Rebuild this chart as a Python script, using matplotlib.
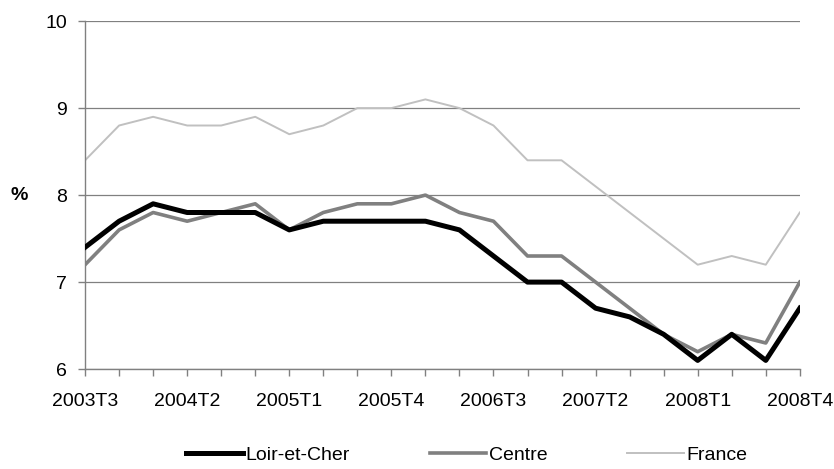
import numpy as np
import matplotlib.pyplot as plt

plt.rcParams['font.family'] = ['Liberation Sans', 'DejaVu Sans']

trimestres = ['2003T3', '2003T4', '2004T1', '2004T2', '2004T3', '2004T4',
              '2005T1', '2005T2', '2005T3', '2005T4', '2006T1', '2006T2',
              '2006T3', '2006T4', '2007T1', '2007T2', '2007T3', '2007T4',
              '2008T1', '2008T2', '2008T3', '2008T4']
loir_et_cher = [7.4, 7.7, 7.9, 7.8, 7.8, 7.8, 7.6, 7.7, 7.7, 7.7, 7.7, 7.6,
                7.3, 7.0, 7.0, 6.7, 6.6, 6.4, 6.1, 6.4, 6.1, 6.7]
centre = [7.2, 7.6, 7.8, 7.7, 7.8, 7.9, 7.6, 7.8, 7.9, 7.9, 8.0, 7.8,
          7.7, 7.3, 7.3, 7.0, 6.7, 6.4, 6.2, 6.4, 6.3, 7.0]
france = [8.4, 8.8, 8.9, 8.8, 8.8, 8.9, 8.7, 8.8, 9.0, 9.0, 9.1, 9.0,
          8.8, 8.4, 8.4, 8.1, 7.8, 7.5, 7.2, 7.3, 7.2, 7.8]

x = np.arange(len(trimestres))

fig = plt.figure(figsize=(8.34, 4.69), dpi=100)
ax = fig.add_axes([0.102, 0.213, 0.857, 0.742])

ax.plot(x, loir_et_cher, color='black', lw=3.6, label='Loir-et-Cher', zorder=3)
ax.plot(x, centre, color='#808080', lw=2.6, label='Centre', zorder=2)
ax.plot(x, france, color='#c0c0c0', lw=1.4, label='France', zorder=1)

ax.set_xlim(0, len(x) - 1)
ax.set_ylim(6, 10)
ax.set_yticks([6, 7, 8, 9, 10])
ax.set_xticks(x)
ax.set_xticklabels([t if i % 3 == 0 else '' for i, t in enumerate(trimestres)])
ax.grid(axis='y', color='#808080', lw=0.9)
ax.set_axisbelow(True)

for s in ['top', 'right']:
    ax.spines[s].set_visible(False)
for s in ['left', 'bottom']:
    ax.spines[s].set_color('#808080')
    ax.spines[s].set_linewidth(1.0)
ax.tick_params(axis='both', colors='#808080', labelcolor='black', labelsize=14,
               length=5, width=1.0)
ax.tick_params(axis='x', pad=12)
ax.tick_params(axis='y', pad=8)

fig.text(0.023, 0.584, '%', fontsize=14, fontweight='bold', ha='center', va='center')

fig.legend(loc='center', bbox_to_anchor=(0.56, 0.03), ncol=3, frameon=False,
           fontsize=14, handlelength=2.9, handletextpad=0.15, columnspacing=4.1,
           borderpad=0)

plt.savefig('out.png', dpi=100)
